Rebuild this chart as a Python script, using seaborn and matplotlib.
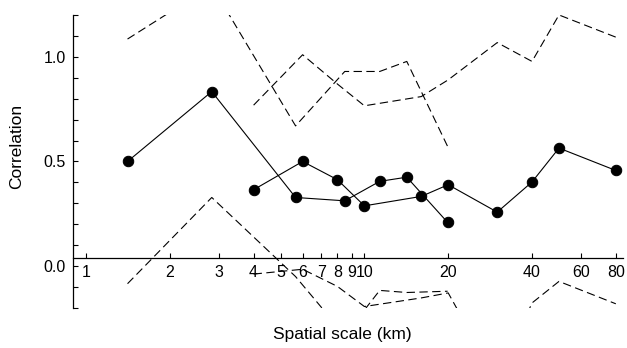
import matplotlib
matplotlib.use("Agg")
import matplotlib.pyplot as plt
import matplotlib.ticker as mticker
import seaborn as sns

# series A (sqrt(2) spaced scales)
scale_a = [1.41, 2.83, 5.66, 8.5, 11.35, 14.2, 19.9]
corr_a = [0.50, 0.834, 0.328, 0.312, 0.405, 0.425, 0.209]
upper_a = [1.085, 1.34, 0.67, 0.93, 0.93, 0.978, 0.572]
lower_a = [-0.084, 0.328, -0.05, -0.33, -0.116, -0.126, -0.12]

# series B
scale_b = [4, 6, 8, 10, 16, 20, 30, 40, 50, 80]
corr_b = [0.365, 0.50, 0.413, 0.288, 0.333, 0.389, 0.258, 0.402, 0.564, 0.457]
upper_b = [0.769, 1.01, 0.87, 0.766, 0.81, 0.89, 1.068, 0.978, 1.20, 1.094]
lower_b = [-0.038, -0.015, -0.097, -0.193, -0.152, -0.128, -0.55, -0.176, -0.073, -0.18]

x_ticks = [1, 2, 3, 4, 5, 6, 7, 8, 9, 10, 20, 40, 60, 80]
y_ticks = [0.0, 0.5, 1.0]

sns.set_style("ticks", {"axes.edgecolor": "black", "text.color": "black",
                        "axes.labelcolor": "black", "xtick.color": "black",
                        "ytick.color": "black"})
plt.rcParams["font.family"] = ["Liberation Sans", "DejaVu Sans"]

fig = plt.figure(figsize=(6.27, 3.48), dpi=100)
ax = fig.add_axes([0.1164, 0.115, 0.877, 0.842])

dash = (0, (7.5, 4))
for xs, ys in [(scale_a, upper_a), (scale_a, lower_a), (scale_b, upper_b), (scale_b, lower_b)]:
    sns.lineplot(x=xs, y=ys, ax=ax, color="black", linewidth=0.8,
                 linestyle=dash, estimator=None, sort=False)

for xs, ys in [(scale_a, corr_a), (scale_b, corr_b)]:
    sns.lineplot(x=xs, y=ys, ax=ax, color="black", linewidth=0.8,
                 marker="o", markersize=7.5, markeredgecolor="black",
                 estimator=None, sort=False)

ax.set_xscale("log")
ax.set_xlim(0.898, 84.8)
ax.set_ylim(-0.2, 1.2)

ax.xaxis.set_major_locator(mticker.FixedLocator(x_ticks))
ax.xaxis.set_major_formatter(mticker.FixedFormatter([str(t) for t in x_ticks]))
ax.xaxis.set_minor_locator(mticker.NullLocator())
ax.yaxis.set_major_locator(mticker.FixedLocator(y_ticks))
ax.yaxis.set_major_formatter(mticker.FormatStrFormatter("%.1f"))
ax.yaxis.set_minor_locator(mticker.MultipleLocator(0.1))

for s in ["top", "right"]:
    ax.spines[s].set_visible(False)
ax.spines["bottom"].set_position(("data", 0.04))
ax.spines["left"].set_linewidth(0.9)
ax.spines["bottom"].set_linewidth(0.9)

ax.tick_params(axis="x", which="major", direction="in", length=3.8, width=0.8,
               labelsize=11.5, pad=5.5)
ax.tick_params(axis="y", which="both", direction="in", length=3.8, width=0.8,
               labelsize=11.5, pad=5)

ax.set_xlabel("Spatial scale (km)", fontsize=12.5)
ax.set_ylabel("Correlation", fontsize=12.5)
ax.xaxis.set_label_coords(0.49, -0.065)
ax.yaxis.set_label_coords(-0.088, 0.55)

fig.savefig("out.png", dpi=100)
